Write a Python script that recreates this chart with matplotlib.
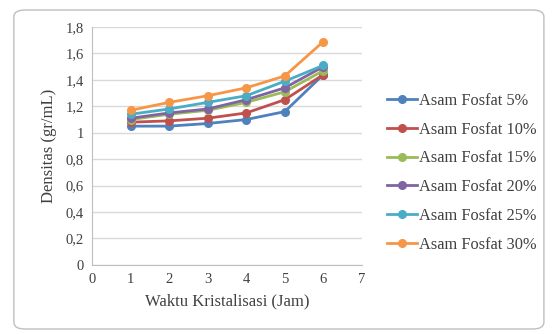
import matplotlib.pyplot as plt
from matplotlib.patches import FancyBboxPatch
from matplotlib.ticker import FuncFormatter

plt.rcParams['font.family'] = ['Liberation Serif', 'DejaVu Serif']

# --- data ---
waktu = [1, 2, 3, 4, 5, 6]
asam_5 = [1.05, 1.05, 1.07, 1.10, 1.16, 1.44]
asam_10 = [1.08, 1.09, 1.11, 1.15, 1.25, 1.44]
asam_15 = [1.10, 1.14, 1.17, 1.23, 1.31, 1.47]
asam_20 = [1.11, 1.15, 1.18, 1.25, 1.34, 1.50]
asam_25 = [1.14, 1.18, 1.23, 1.28, 1.39, 1.51]
asam_30 = [1.17, 1.23, 1.28, 1.34, 1.43, 1.69]

labels = ['Asam Fosfat 5%', 'Asam Fosfat 10%', 'Asam Fosfat 15%',
          'Asam Fosfat 20%', 'Asam Fosfat 25%', 'Asam Fosfat 30%']
series = [asam_5, asam_10, asam_15, asam_20, asam_25, asam_30]
colors = ['#4F81BD', '#C0504D', '#9BBB59', '#8064A2', '#4BACC6', '#F79646']


def koma(v, pos):
    if abs(v - round(v)) < 1e-9:
        return str(int(round(v)))
    return f'{v:.1f}'.replace('.', ',')


fig = plt.figure(figsize=(5.55, 3.34), dpi=100)
# bingkai grafik (sudut membulat)
frame = FancyBboxPatch((0.025, 0.015), 0.955, 0.955, boxstyle='round,pad=0,rounding_size=0.02',
                       transform=fig.transFigure, facecolor='none', edgecolor='#BFBFBF', lw=1,
                       zorder=5)
fig.patches.append(frame)

ax = fig.add_axes([0.166, 0.207, 0.486, 0.712])
for vals, lab, c in zip(series, labels, colors):
    ax.plot(waktu, vals, color=c, lw=2, marker='o', ms=5.5, label=lab)

ax.set_xlim(0, 7)
ax.set_ylim(0, 1.8)
ax.set_xticks(range(0, 8))
ax.set_yticks([i * 0.2 for i in range(10)])
ax.yaxis.set_major_formatter(FuncFormatter(koma))
ax.grid(axis='y', color='#D9D9D9', lw=1)
ax.set_axisbelow(True)
for s in ['top', 'right']:
    ax.spines[s].set_visible(False)
for s in ['left', 'bottom']:
    ax.spines[s].set_color('#BFBFBF')
ax.tick_params(length=0, labelsize=10.5, colors='#404040', pad=6)

ax.set_xlabel('Waktu Kristalisasi (Jam)', fontsize=12, color='#404040', labelpad=5)
ax.set_ylabel('Densitas (gr/mL)', fontsize=12, color='#404040', labelpad=6)

fig.legend(loc='center left', bbox_to_anchor=(0.697, 0.483), bbox_transform=fig.transFigure,
           frameon=False, fontsize=11.8, borderpad=0, borderaxespad=0,
           handlelength=1.85, handletextpad=0.1, labelspacing=0.78, labelcolor='#404040')

fig.savefig('out.png', dpi=100)
